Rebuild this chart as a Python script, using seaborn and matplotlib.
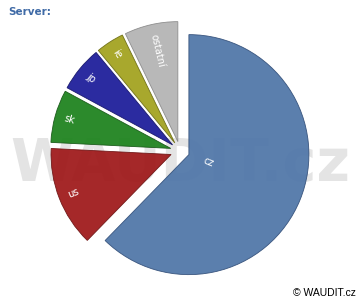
import numpy as np
import matplotlib
matplotlib.use("Agg")
import matplotlib.pyplot as plt
import seaborn as sns

labels = ["cz", "us", "sk", "jp", "ie", "ostatní"]
values = [62.3, 13.5, 7.1, 6.1, 3.8, 7.2]
colors = ["#5278a9", "#a01c1d", "#208420", "#1f1f9b", "#a3a321", "#b4b4b4"]
edges = ["#34507a", "#6e1515", "#185818", "#16166a", "#6e6e14", "#8a8a8a"]

sns.set_theme(style="white")
plt.rcParams['font.family'] = ['DejaVu Sans']

fig = plt.figure(figsize=(3.6, 3.0), dpi=100)
ax = fig.add_axes([0, 0, 1, 1])
ax.set_xlim(-1.5, 1.5)
ax.set_ylim(-149 / 120, 151 / 120)
ax.set_aspect('equal')
ax.axis('off')

# watermark
ax.text(0.0, -0.11, "WAUDIT.cz", fontsize=41.5, fontweight='bold', color='#e4e4e4',
        ha='center', va='center', zorder=0)

wedges, texts = ax.pie(values, labels=labels, colors=colors, startangle=90,
                       counterclock=False, explode=[0.08] * len(values),
                       radius=1.0, rotatelabels=True, labeldistance=0.9,
                       wedgeprops=dict(linewidth=0.6, alpha=0.95),
                       textprops=dict(color='white', fontsize=7))
ax.set_xlim(-1.5, 1.5)
ax.set_ylim(-149 / 120, 151 / 120)

for w, t, ec in zip(wedges, texts, edges):
    w.set_edgecolor(ec)
    w.set_zorder(2)
    cx, cy = w.center
    mid = np.deg2rad((w.theta1 + w.theta2) / 2)
    deg = np.rad2deg(mid) % 360
    if np.cos(mid) > 0:
        d = 0.13 * w.r
        rot = deg if deg < 180 else deg - 360
    else:
        d = 0.92 * w.r
        rot = deg - 180
    t.set_position((cx + d * np.cos(mid), cy + d * np.sin(mid)))
    t.set_rotation(rot)
    t.set_rotation_mode('anchor')
    t.set_ha('left')
    t.set_va('center')
    t.set_zorder(3)

fig.text(8 / 360, 1 - 12 / 300, "Server:", fontsize=7.5, fontweight='bold',
         color='#3f6aa6', ha='left', va='center')
fig.text(356 / 360, 1 - 293 / 300, "© WAUDIT.cz", fontsize=7.5,
         family=['Liberation Sans', 'DejaVu Sans'], color='black',
         ha='right', va='center')

fig.savefig("out.png", dpi=100)
